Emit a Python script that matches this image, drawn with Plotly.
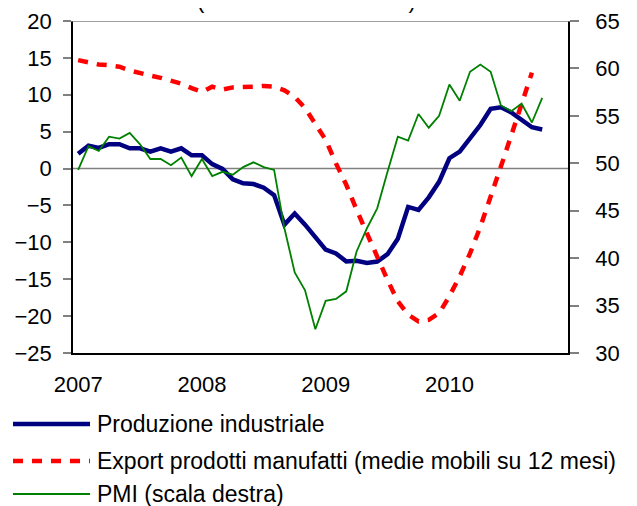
import plotly.graph_objects as go

# ---------------- data ----------------
years = [2007, 2008, 2009, 2010]
months = [f"{y}-{m:02d}" for y in years for m in range(1, 13)]

produzione = [2.0, 3.1, 2.8, 3.3, 3.3, 2.75, 2.75, 2.3, 2.75, 2.3,
              2.75, 1.8, 1.8, 0.6, -0.05, -1.45, -2.0, -2.1, -2.6, -3.6,
              -7.6, -6.1, -7.6, -9.4, -11.0, -11.5, -12.6, -12.5, -12.8, -12.6,
              -11.6, -9.5, -5.2, -5.6, -3.9, -1.8, 1.4, 2.3, 4.1, 5.9,
              8.1, 8.3, 7.6, 6.6, 5.6, 5.3]

export = [14.7, 14.4, 14.1, 14.0, 13.8, 13.3, 12.9, 12.6, 12.3, 11.9,
          11.5, 10.9, 10.4, 11.1, 10.7, 11.0, 11.0, 11.1, 11.2, 11.1,
          10.6, 9.7, 8.2, 6.1, 3.9, 0.7, -2.2, -5.6, -8.8, -11.7,
          -15.1, -18.0, -19.8, -20.7, -20.5, -19.6, -17.3, -14.6, -11.5, -7.9,
          -4.0, 0.3, 4.5, 8.8, 13.0]

pmi = [49.3, 51.8, 51.3, 52.8, 52.6, 53.2, 52.0, 50.45, 50.45, 49.8,
       50.6, 48.65, 50.45, 48.65, 49.1, 48.8, 49.6, 50.1, 49.6, 49.3,
       43.15, 38.5, 36.6, 32.5, 35.5, 35.7, 36.5, 40.7, 43.15, 45.25,
       49.1, 52.8, 52.4, 55.2, 53.75, 55.0, 58.3, 56.6, 59.65, 60.4,
       59.65, 56.1, 55.5, 56.3, 54.3, 56.9]

series_names = ["Produzione industriale",
                "Export prodotti manufatti (medie mobili su 12 mesi)",
                "PMI (scala destra)"]
title_text = "(variazioni tendenziali)"
left_ticks = list(range(-25, 21, 5))
right_ticks = list(range(30, 66, 5))

# ---------------- layout helpers ----------------
# the page body has an 8px margin, so the figure is drawn 8px smaller
# and all window pixel positions are shifted by OFF
OFF = 8
W, H = 637 - OFF, 506 - OFF
L, R, T, B = 73 - OFF, 568 - OFF, 21 - OFF, 353 - OFF
FONT = "Liberation Sans, Arial, sans-serif"
BLUE, RED, GREEN, GRAY = "#000080", "#FF0000", "#008000", "#808080"
DASH = "10px,9px"


def px(x):
    """window pixel x -> paper coordinate"""
    return (x - OFF - L) / (R - L)


def py(y):
    """window pixel y -> paper coordinate"""
    return (B - (y - OFF)) / (B - T)


fig = go.Figure()
fig.add_trace(go.Scatter(x=months[:len(produzione)], y=produzione, mode="lines",
                         name=series_names[0], line=dict(color=BLUE, width=4.5),
                         showlegend=False))
fig.add_trace(go.Scatter(x=months[:len(export)], y=export, mode="lines",
                         name=series_names[1],
                         line=dict(color=RED, width=4.5, dash=DASH),
                         showlegend=False))
fig.add_trace(go.Scatter(x=months[:len(pmi)], y=pmi, mode="lines", yaxis="y2",
                         name=series_names[2], line=dict(color=GREEN, width=1.8),
                         showlegend=False))

fig.update_layout(
    template="none",
    width=W, height=H, autosize=False,
    margin=dict(l=L, r=W - R, t=T, b=H - B, pad=0, autoexpand=False),
    paper_bgcolor="white", plot_bgcolor="white",
    font=dict(family=FONT, size=22, color="black"),
    xaxis=dict(type="category", categoryorder="array", categoryarray=months,
               range=[-0.5, len(months) - 0.5], automargin=False,
               tickvals=[months[12 * k] for k in range(len(years))],
               ticktext=[str(y) for y in years],
               ticks="", showgrid=False, zeroline=False,
               showline=True, linecolor="black", linewidth=1.5,
               ticklabelstandoff=11, tickfont=dict(size=22)),
    yaxis=dict(range=[-25, 20], tickvals=left_ticks, ticks="outside", ticklen=8,
               tickcolor=GRAY, tickwidth=1.5, showgrid=False, zeroline=False,
               showline=True, linecolor="black", linewidth=1.5, automargin=False,
               ticklabelstandoff=7, tickfont=dict(size=22)),
    yaxis2=dict(range=[30, 65], tickvals=right_ticks, overlaying="y", side="right",
                ticks="outside", ticklen=9, tickcolor=GRAY, tickwidth=1.5,
                showgrid=False, zeroline=False, showline=True, linecolor="black",
                linewidth=1.5, automargin=False, ticklabelstandoff=12,
                tickfont=dict(size=22)),
)

shapes = [
    # top border line at 20 / 65
    dict(type="line", xref="paper", yref="y", x0=px(65), x1=px(577), y0=20, y1=20,
         line=dict(color=GRAY, width=1.5)),
    # zero line
    dict(type="line", xref="paper", yref="y", x0=0, x1=1, y0=0, y1=0,
         line=dict(color=GRAY, width=1.5), layer="below"),
]

legend_rows = [424, 461, 494]
legend_styles = [dict(color=BLUE, width=4.5),
                 dict(color=RED, width=4.5, dash=DASH),
                 dict(color=GREEN, width=1.8)]
annotations = []
for name, row, style in zip(series_names, legend_rows, legend_styles):
    shapes.append(dict(type="line", xref="paper", yref="paper",
                       x0=px(13), x1=px(90), y0=py(row), y1=py(row), line=style))
    annotations.append(dict(xref="paper", yref="paper", x=px(95), y=py(row),
                            xanchor="left", yanchor="middle", showarrow=False,
                            text=name, font=dict(size=23, family=FONT, color="black")))

# title: only its lower edge is visible at the top of the picture
annotations.append(dict(xref="paper", yref="paper", x=px(306), y=py(OFF + 7),
                        xanchor="center", yanchor="bottom", showarrow=False,
                        text=title_text, font=dict(size=22, family=FONT, color="black")))

fig.update_layout(shapes=shapes, annotations=annotations)
fig.write_html("out.html")
